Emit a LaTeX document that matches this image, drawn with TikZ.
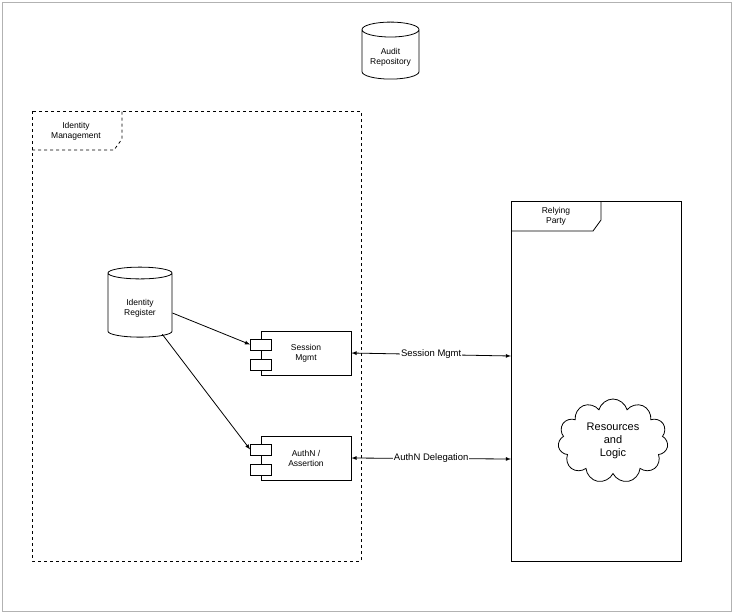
\documentclass[tikz,border=0pt]{standalone}
\usepackage{fontspec}
\setmainfont{Liberation Sans}
\usetikzlibrary{shapes.geometric,shapes.symbols,positioning}
\tikzset{
  store/.style = {cylinder, shape border rotate=90, draw, aspect=0.35, align=center, font=\fontsize{8.5}{10}\selectfont, inner sep=1pt},
  comp/.style = {draw, minimum width=90pt, minimum height=44pt, align=center, font=\fontsize{8.5}{10}\selectfont},
  port/.style = {draw, fill=white, minimum width=21pt, minimum height=11pt, inner sep=0pt},
  flow/.style = {-latex},
  link/.style = {latex-latex},
  lbl/.style = {fill=white, inner sep=1pt, font=\fontsize{9.5}{11}\selectfont}
}
\begin{document}
\begin{tikzpicture}[x=1pt, y=-1pt, line width=0.8pt]
  \useasboundingbox (0,0) rectangle (734,614);
  \draw[gray!60, thin] (2,2) rectangle (731,611);
  % frames
  \draw[dashed] (32,111) rectangle (361,561);
  \draw[dashed] (32,150) -- (114,150) -- (122,139) -- (122,111);
  \node[align=center, font=\fontsize{8.5}{10}\selectfont] (idm) at (76,131) {Identity\\Management};
  \draw (511,201) rectangle (681,561);
  \draw (511,231) -- (593,231) -- (601,220) -- (601,201);
  \node[align=center, font=\fontsize{8.5}{10}\selectfont] (rp) at (556,216) {Relying\\Party};
  % stores
  \node[store, minimum width=57pt, minimum height=57pt] (audit) at (390.5,55.5) {\\Audit\\Repository};
  \node[store, minimum width=64pt, minimum height=70pt] (reg) at (140,306) {\\Identity\\Register};
  % components
  \node[comp] (sess) at (306,353) {Session\\Mgmt};
  \node[port] (sp1) at (261,344.5) {};
  \node[port] (sp2) at (261,364.5) {};
  \node[comp] (auth) at (306,458) {AuthN /\\Assertion};
  \node[port] (ap1) at (261,449.5) {};
  \node[port] (ap2) at (261,469.5) {};
  \node[cloud, draw, cloud puffs=11, aspect=1.4, minimum width=110pt, minimum height=84pt, align=center, font=\fontsize{11}{13}\selectfont, inner sep=0pt] (res) at (613,441) {Resources\\and\\Logic};
  % connectors
  \draw[flow] (reg.east) ++(0,7) coordinate (r1) -- (sp1.west);
  \draw[flow] (reg.south east) ++(-6,0) coordinate (r2) -- (ap1.west);
  \coordinate (rs) at (511,356);
  \coordinate (ra) at (511,459);
  \draw[link] (sess.east) -- node[lbl]{Session Mgmt} (rs);
  \draw[link] (auth.east) -- node[lbl]{AuthN Delegation} (ra);
\end{tikzpicture}
\end{document}
